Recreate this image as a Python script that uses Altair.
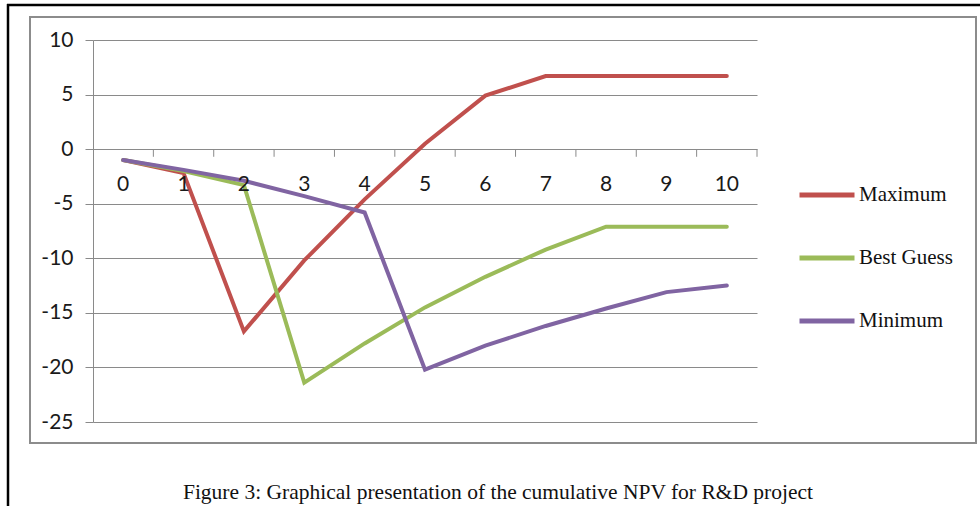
import altair as alt
import pandas as pd

years = [0, 1, 2, 3, 4, 5, 6, 7, 8, 9, 10]
maximum = [-1.0, -2.2, -16.7, -10.2, -4.6, 0.5, 4.9, 6.7, 6.7, 6.7, 6.7]
best_guess = [-1.0, -2.0, -3.3, -21.4, -17.8, -14.5, -11.7, -9.2, -7.1, -7.1, -7.1]
minimum = [-1.0, -1.9, -2.9, -4.3, -5.8, -20.2, -18.0, -16.2, -14.6, -13.1, -12.5]
series_names = ["Maximum", "Best Guess", "Minimum"]
series_colors = ["#C0504D", "#9BBB59", "#8064A2"]
y_ticks = [10, 5, 0, -5, -10, -15, -20, -25]
x_labels = [str(v) for v in years]
x_tick_positions = [0.5, 1.5, 2.5, 3.5, 4.5, 5.5, 6.5, 7.5, 8.5, 9.5, 10.5]
caption = "Figure 3: Graphical presentation of the cumulative NPV for R&D project"

rows = []
for name, vals in zip(series_names, [maximum, best_guess, minimum]):
    for t, v in zip(years, vals):
        rows.append({"t": t, "v": v, "series": name})
df = pd.DataFrame(rows)

W, H = 664, 382
xscale = alt.Scale(domain=[-0.5, 10.5], nice=False, zero=False)
yscale = alt.Scale(domain=[-25, 10], nice=False, zero=False)
yaxis = alt.Axis(
    values=y_ticks, title=None, grid=True, gridColor="#8a8a8a", gridWidth=1,
    domainColor="#8a8a8a", domainWidth=1, tickColor="#8a8a8a", tickSize=8,
    labelExpr="'' + datum.value",
    labelFont="Lato", labelFontSize=21, labelColor="#1a1a1a", labelPadding=12)

lines = alt.Chart(df).mark_line(strokeWidth=4, strokeCap="round").encode(
    x=alt.X("t:Q", scale=xscale, axis=None),
    y=alt.Y("v:Q", scale=yscale, axis=yaxis),
    color=alt.Color("series:N", sort=series_names,
                    scale=alt.Scale(domain=series_names, range=series_colors),
                    legend=alt.Legend(title=None, orient="none", legendX=704, legendY=125,
                                      symbolType="stroke", symbolSize=3025, symbolStrokeWidth=5,
                                      labelFont="Liberation Serif", labelFontSize=21,
                                      labelColor="#111111", labelOffset=2, rowPadding=23)),
    order=alt.Order("t:Q"),
)

tick_df = pd.DataFrame({"p": x_tick_positions, "a": [0.0] * len(x_tick_positions),
                        "b": [-0.7] * len(x_tick_positions)})
ticks = alt.Chart(tick_df).mark_rule(color="#8a8a8a", strokeWidth=1).encode(
    x=alt.X("p:Q", scale=xscale, axis=None),
    y=alt.Y("a:Q", scale=yscale, axis=yaxis),
    y2="b:Q",
)

lab_df = pd.DataFrame({"t": years, "lab": x_labels, "z": [0.0] * len(years)})
xlabels = alt.Chart(lab_df).mark_text(font="Lato", fontSize=21, color="#1a1a1a", dy=36).encode(
    x=alt.X("t:Q", scale=xscale, axis=None),
    y=alt.Y("z:Q", scale=yscale, axis=yaxis),
    text="lab:N",
)

frame_df = pd.DataFrame({"k": [0], "cap": [caption]})
def hline(x1, x2, y, color, w):
    return alt.Chart(frame_df).mark_rule(color=color, strokeWidth=w).encode(
        x=alt.value(x1), x2=alt.value(x2), y=alt.value(y))
def vline(x, y1, y2, color, w):
    return alt.Chart(frame_df).mark_rule(color=color, strokeWidth=w).encode(
        x=alt.value(x), y=alt.value(y1), y2=alt.value(y2))

g = "#8c8c8c"
frames = [
    hline(-64, 884, -23, g, 2), hline(-64, 884, 403, g, 2),
    vline(-63, -23, 403, g, 2), vline(883, -23, 403, g, 2),
    vline(-85, -36, 470, "#000000", 2.5), hline(-86, 890, -35, "#000000", 2.5),
]

cap = alt.Chart(frame_df).mark_text(font="Liberation Serif", fontSize=21.5, color="#111111",
                                    align="center", baseline="middle").encode(
    x=alt.value(405), y=alt.value(453), text="cap:N")

chart = alt.layer(*frames, ticks, lines, xlabels, cap).properties(
    width=W, height=H,
    autosize=alt.AutoSizeParams(type="none"),
    padding={"left": 93, "top": 40, "right": 223, "bottom": 84},
    background="white",
).configure_view(stroke=None)

chart.save("out.html", embed_options={"renderer": "svg", "actions": False})
